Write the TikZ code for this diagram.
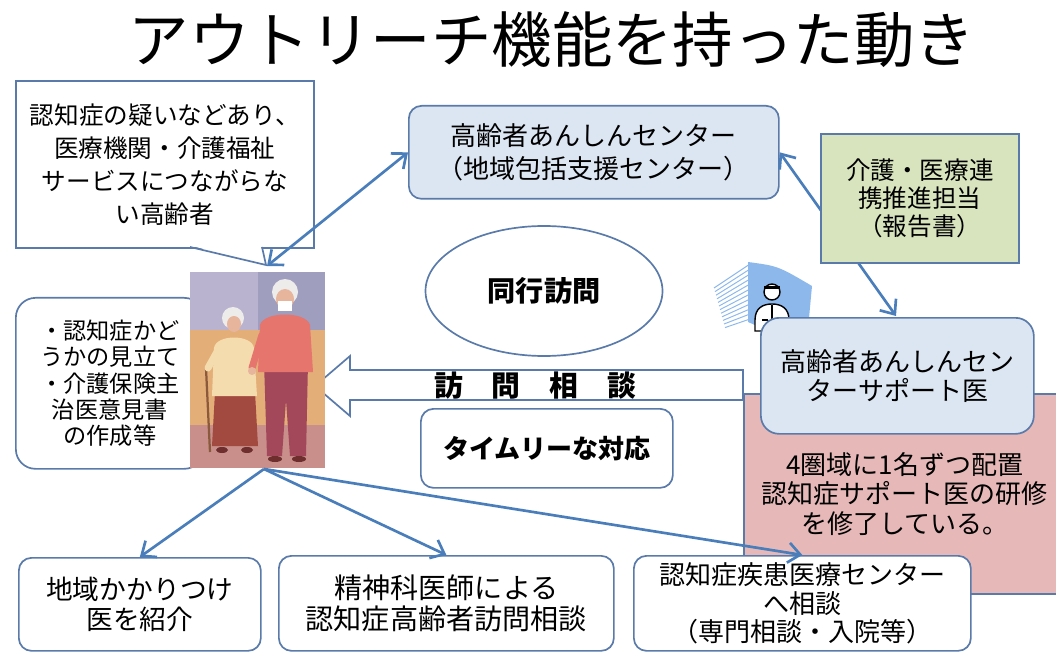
\documentclass[tikz,border=0pt]{standalone}
\usepackage{fontspec}
\setmainfont{Noto Sans CJK JP}
\usetikzlibrary{arrows.meta,shapes.geometric}

\definecolor{edge}{HTML}{5A7BAA}
\definecolor{arrblue}{HTML}{4A7EBB}
\definecolor{paleblue}{HTML}{DCE6F2}
\definecolor{palegreen}{HTML}{D7E4BD}
\definecolor{rose}{HTML}{E6B9B8}
\definecolor{fanblue}{HTML}{8DB8EC}
% colours of the little photo
\definecolor{lilac}{HTML}{B9B3D0}
\definecolor{slate}{HTML}{9F9EBE}
\definecolor{ochre}{HTML}{E4AE78}
\definecolor{mauve}{HTML}{C88F8B}
\definecolor{cardigan}{HTML}{F4DCAE}
\definecolor{skirt}{HTML}{A34A40}
\definecolor{hair}{HTML}{EEECEA}
\definecolor{skin}{HTML}{E7B49C}
\definecolor{sweater}{HTML}{E5756D}
\definecolor{trouser}{HTML}{A2485A}
\definecolor{shoe}{HTML}{6E2E2E}
\definecolor{cane}{HTML}{8B5A3C}

\begin{document}
\begin{tikzpicture}[x=0.025cm, y=-0.025cm,
      chev/.tip={Straight Barb[length=3mm,width=5mm]},
      box/.style={draw=edge, line width=1.2pt, align=center, inner sep=2pt},
      rbox/.style={box, rounded corners=9pt},
      wh/.style 2 args={minimum width=#1*0.025cm, minimum height=#2*0.025cm},
      arr/.style={-chev, line width=1.9pt, draw=arrblue},
      darr/.style={arr, chev-chev}]
    \useasboundingbox (0,0) rectangle (1056,655);

    \node[font=\fontsize{43}{50}\selectfont] (title) at (552,40) {アウトリーチ機能を持った動き};

    % support doctor area, behind the boxes
    \node[box, fill=rose, anchor=north west, wh={322}{200},
          font=\fontsize{18.5}{21}\selectfont] (haichi) at (743,393)
          {4圏域に1名ずつ配置\\認知症サポート医の研修\\を修了している。};

    % hollow arrow for home visits
    \draw[edge, line width=1.2pt, fill=white] (743,370) -- (350,370) -- (350,356)
      -- (315,386) -- (350,416) -- (350,400) -- (743,400) -- cycle;
    \node[font=\bfseries\fontsize{20.5}{24}\selectfont] (homon) at (535,386) {訪　問　相　談};

    % callout
    \node[box, fill=white, anchor=north west, wh={298}{167},
          font=\fontsize{17.5}{23.5}\selectfont] (call) at (15,80)
          {認知症の疑いなどあり、\\医療機関・介護福祉\\サービスにつながらな\\い高齢者};
    \fill[white] (192,246) -- (266,265) -- (261,246) -- cycle;
    \draw[edge, line width=1.2pt] (190,247) -- (266,265) -- (262,247);

    \node[rbox, rounded corners=14pt, fill=white, anchor=north west, wh={188}{171},
          font=\fontsize{16.5}{18.7}\selectfont] (mitate) at (15,297)
          {・認知症かど\\うかの見立て\\・介護保険主\\治医意見書\\の作成等};
    \node[ellipse, draw=edge, line width=1.2pt, wh={237}{130},
          font=\bfseries\fontsize{20}{24}\selectfont] (doko) at (544,291) {同行訪問};
    \node[rbox, fill=white, anchor=north west, wh={252}{79},
          font=\bfseries\fontsize{18.5}{22}\selectfont] (timely) at (420,408) {タイムリーな対応};
    \node[rbox, fill=paleblue, anchor=north west, wh={370}{93},
          font=\fontsize{18.5}{23}\selectfont] (anc) at (408,105)
          {高齢者あんしんセンター\\（地域包括支援センター）};

    % elderly couple
    \node[anchor=north west, wh={135}{196}, inner sep=0] (elder) at (190,272) {};
    \fill[lilac] (190,272) rectangle (258,330);
    \fill[slate] (258,272) rectangle (325,330);
    \fill[ochre] (190,330) rectangle (325,425);
    \fill[mauve] (190,425) rectangle (325,468);
    \draw[cane, line width=1.6pt] (206,368) -- (210,452);
    \fill[skirt] (215,392) -- (255,392) -- (258,446) -- (212,446) -- cycle;
    \fill[cardigan] (212,396) -- (214,348) .. controls (216,334) and (252,334) .. (254,348) -- (257,396) -- cycle;
    \draw[cardigan, line width=5pt, line cap=round] (218,350) -- (208,368);
    \fill[hair] (233,318) circle[radius=11];
    \fill[skin] (234,324) ellipse[x radius=7, y radius=8];
    \fill[shoe] (222,450) ellipse[x radius=6, y radius=3];
    \fill[shoe] (247,450) ellipse[x radius=6, y radius=3];
    \fill[trouser] (264,362) -- (308,362) -- (306,456) -- (290,456) -- (286,400)
      -- (282,456) -- (267,456) -- cycle;
    \fill[sweater] (258,372) -- (260,325) .. controls (264,311) and (306,311) .. (310,325) -- (313,372) -- cycle;
    \draw[sweater, line width=5pt, line cap=round] (262,335) -- (252,368);
    \fill[skin] (252,371) circle[radius=4];
    \fill[hair] (285,292) circle[radius=13];
    \fill[skin] (285,299) ellipse[x radius=9, y radius=10];
    \fill[white] (278,301) rectangle (292,311);
    \fill[shoe] (275,459) ellipse[x radius=7, y radius=3];
    \fill[shoe] (299,459) ellipse[x radius=7, y radius=3];

    \coordinate (eTop) at (267,266);
    \coordinate (eBot) at (264,469);
    \draw[darr] (eTop) -- (anc.west);
    \draw[darr] (anc.east) -- (896,316);

    \node[box, fill=palegreen, anchor=north west, wh={198}{129},
          font=\fontsize{17.5}{20}\selectfont] (tanto) at (820,133)
          {介護・医療連\\携推進担当\\（報告書）};

    % doctor icon with its blue swoosh
    \fill[fanblue] (748,262) .. controls (778,266) .. (812,286) -- (806,350)
      .. controls (780,336) .. (748,322) -- cycle;
    \foreach \k in {0,...,11}
      \draw[fanblue, line width=0.7pt] (714+\k,288+3.6*\k) -- (750,264+5*\k);
    \draw[black, line width=1pt, fill=white] (755,331) -- (755,320)
      .. controls (755,308) and (763,304) .. (772,304)
      .. controls (781,304) and (789,308) .. (789,320) -- (789,331) -- cycle;
    \draw[black, line width=0.8pt] (772,305) -- (772,322) (762,320) -- (768,320);
    \draw[black, line width=1pt, fill=white] (772,292) circle[radius=8];
    \fill[black] (764,289) rectangle (780,286);

    \node[rbox, rounded corners=13pt, fill=paleblue, anchor=north west, wh={273}{116},
          font=\fontsize{18.5}{20.5}\selectfont] (sup) at (760,317)
          {高齢者あんしんセン\\ターサポート医};

    % referrals
    \node[rbox, fill=white, anchor=north west, wh={242}{93},
          font=\fontsize{19}{22}\selectfont] (kakari) at (18,557) {地域かかりつけ\\医を紹介};
    \node[rbox, fill=white, anchor=north west, wh={335}{95},
          font=\fontsize{20}{22}\selectfont] (seishin) at (278,555)
          {精神科医師による\\認知症高齢者訪問相談};
    \node[rbox, fill=white, anchor=north west, wh={337}{95},
          font=\fontsize{18.5}{20.5}\selectfont] (shikkan) at (633,555)
          {認知症疾患医療センター\\へ相談\\（専門相談・入院等）};
    \draw[arr] (eBot) -- (kakari.north);
    \draw[arr] (eBot) -- (seishin.north);
    \draw[arr] (eBot) -- (shikkan.north);
  \end{tikzpicture}
\end{document}
